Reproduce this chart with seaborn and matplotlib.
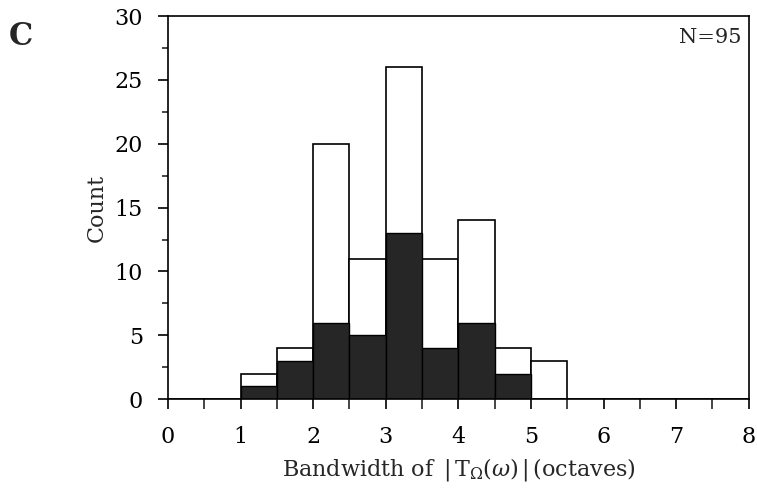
import numpy as np
import matplotlib
matplotlib.use("Agg")
import matplotlib.pyplot as plt
import seaborn as sns
from matplotlib.ticker import MultipleLocator

# bin edges (octaves) and counts
bin_edges = [0, 0.5, 1, 1.5, 2, 2.5, 3, 3.5, 4, 4.5, 5, 5.5, 6, 6.5, 7, 7.5, 8]
all_counts = [0, 0, 2, 4, 20, 11, 26, 11, 14, 4, 3, 0, 0, 0, 0, 0]
sub_counts = [0, 0, 1, 3, 6, 5, 13, 4, 6, 2, 0, 0, 0, 0, 0, 0]

bin_centers = [(a + b) / 2 for a, b in zip(bin_edges[:-1], bin_edges[1:])]

sns.set_style("ticks")
plt.rcParams['font.family'] = ['DejaVu Serif']
plt.rcParams['mathtext.fontset'] = 'dejavuserif'

fig = plt.figure(figsize=(7.57, 4.88), dpi=100)
ax = fig.add_axes([0.222, 0.182, 0.767, 0.785])

sns.histplot(x=bin_centers, weights=all_counts, bins=bin_edges, ax=ax,
             color="white", edgecolor="black", linewidth=1.2, alpha=1)
sns.histplot(x=bin_centers, weights=sub_counts, bins=bin_edges, ax=ax,
             color="#262626", edgecolor="black", linewidth=1.0, alpha=1)

ax.set_xlim(0, 8)
ax.set_ylim(0, 30)
ax.xaxis.set_major_locator(MultipleLocator(1))
ax.xaxis.set_minor_locator(MultipleLocator(0.5))
ax.yaxis.set_major_locator(MultipleLocator(5))
ax.yaxis.set_minor_locator(MultipleLocator(2.5))
ax.tick_params(axis="both", which="major", direction="out", length=7, width=1.2,
               labelsize=16, colors="black")
ax.tick_params(axis="x", which="minor", direction="out", length=7, width=1.2)
ax.tick_params(axis="y", which="minor", direction="out", length=4, width=1.2)
ax.tick_params(axis="x", which="major", pad=12)
ax.tick_params(axis="y", which="major", pad=11)
for s in ax.spines.values():
    s.set_linewidth(1.2)
    s.set_color("black")

ax.set_xlabel(r"Bandwidth of $\,|\,\mathrm{T}_{\Omega}(\omega)\,|\,$(octaves)", fontsize=16, labelpad=6)
ax.set_ylabel("Count", fontsize=16, labelpad=5)
ax.text(0.988, 0.97, "N=95", transform=ax.transAxes, ha="right", va="top", fontsize=15)
fig.text(0.012, 0.925, "C", fontsize=22, fontweight="bold", ha="left", va="center")

fig.savefig("out.png", dpi=100)
